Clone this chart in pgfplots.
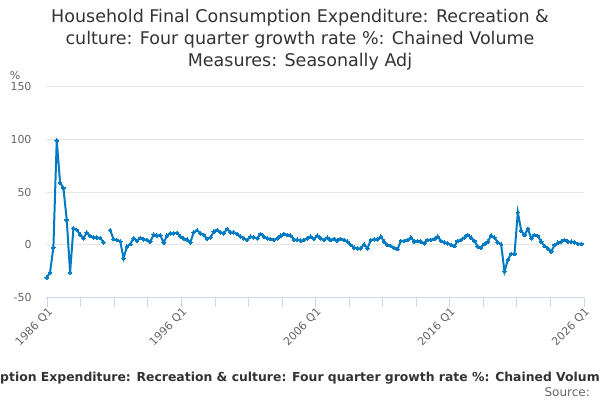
\documentclass[border=0pt]{standalone}
\usepackage{fontspec}
\setmainfont{DejaVu Sans}
\usepackage{pgfplots}
\pgfplotsset{compat=1.18}
\definecolor{ons}{RGB}{0,122,194}
\definecolor{gridc}{RGB}{230,230,230}
\definecolor{axisc}{RGB}{204,214,235}
\definecolor{lab}{RGB}{102,102,102}
\definecolor{ttl}{RGB}{51,51,51}
\pgfplotstableread{
q v
0 -31
1 -26
2 -2.5
3 99
4 59
5 54
6 23.7
7 -26
8 15.8
9 14.2
10 10
11 6.3
12 11.7
13 8.5
14 7.3
15 7
16 6.6
17 2.5
18 nan
19 14
20 5.5
21 4.7
22 3.4
23 -12.6
24 -1.6
25 0.8
26 6.3
27 3.9
28 6.6
29 5.4
30 4.8
31 3
32 9.8
33 9
34 9.3
35 2
36 9
37 11
38 11
39 11.5
40 8
41 6
42 5.4
43 2.5
44 12
45 14
46 11
47 9.5
48 5.7
49 7
50 12.6
51 14.2
52 12
53 11
54 15.2
55 12
56 12
57 10.4
58 7.9
59 6.3
60 4.7
61 7.9
62 7.3
63 6.3
64 10.4
65 7.9
66 6.3
67 5.7
68 4.7
69 6.3
70 8.8
71 10.4
72 9.5
73 8.8
74 5.2
75 5
76 4
77 4.7
78 6.3
79 7.9
80 5.7
81 8.8
82 6.3
83 4.7
84 7
85 4.7
86 5.7
87 4
88 5.7
89 4.7
90 3.2
91 0
92 -2.5
93 -3.2
94 -3.2
95 0.6
96 -3.2
97 4.7
98 5.4
99 5.4
100 7.9
101 3.2
102 0
103 -1
104 -2.7
105 -4
106 3.8
107 3.8
108 4.7
109 7
110 3.2
111 3.8
112 3.2
113 1.6
114 4.7
115 4.7
116 5.7
117 7.9
118 3.8
119 2.5
120 1.6
121 0
122 -1
123 3.8
124 4.7
125 7
126 9.5
127 7
128 3.8
129 -1.6
130 -2.5
131 1
132 3
133 9
134 7
135 2.5
136 0.6
137 -25.3
138 -14.2
139 -8.5
140 -8.5
141 31
142 13.6
143 9.5
144 15.2
145 6.3
146 9.5
147 8.5
148 3.2
149 -1
150 -3.2
151 -6.3
152 0
153 2.2
154 3.2
155 4.7
156 3.2
157 3.2
158 2.5
159 1
160 1
}\datatable
\begin{document}
\begin{tikzpicture}[x=1pt,y=1pt]
\begin{axis}[
  scale only axis, width=538.3pt, height=211pt,
  xmin=-0.3, xmax=160.8,
  ymin=-50, ymax=150,
  ytick={-50,0,50,100,150},
  xtick={0.2,40.35,80.5,120.65,160.8},
  xticklabels={1986 Q1,1996 Q1,2006 Q1,2016 Q1,2026 Q1},
  minor xtick={10.24,20.28,30.31,50.39,60.43,70.46,90.54,100.58,110.61,130.69,140.73,150.76},
  axis lines*=left,
  x axis line style={draw=axisc, line width=1pt},
  y axis line style={draw=none},
  ymajorgrids,
  major grid style={draw=gridc, line width=1pt},
  tick align=outside,
  major tick length=9pt, minor tick length=9pt,
  xtick style={draw=axisc, line width=1pt},
  minor tick style={draw=axisc, line width=1pt},
  ytick style={draw=none},
  /pgf/number format/assume math mode=true,
  yticklabel style={text=lab, font=\fontsize{11}{13}\selectfont, anchor=east, inner sep=0pt, xshift=-5pt},
  xticklabel style={text=lab, font=\fontsize{11}{13}\selectfont, rotate=45, anchor=east, inner sep=0pt, yshift=-5pt},
  unbounded coords=jump,
  clip=false,
]
\addplot[ons, line width=2pt, mark=*, mark size=1.8pt, mark options={fill=ons, draw=ons, line width=0pt}] table[x=q, y=v] {\datatable};
\end{axis}
\begin{scope}[shift={(-45.7,-102.3)}]
\path[use as bounding box] (0,0) rectangle (600,400);
\node[ttl, align=center, font=\fontsize{17.5}{22}\selectfont] at (300,360) {Household Final Consumption Expenditure: Recreation \&\\culture: Four quarter growth rate \%: Chained Volume\\Measures: Seasonally Adj};
\node[lab, font=\fontsize{11}{13}\selectfont, inner sep=0pt] at (15,325) {\%};
\node[ttl, anchor=base west, inner sep=0pt, font=\bfseries\fontsize{12.4}{14}\selectfont] at (0,19) {\llap{Household Final Consum}ption Expenditure: Recreation \& culture: Four quarter growth rate \%: Chained Volume Measures: Seasonally Adj};
\node[lab, anchor=base east, inner sep=0pt, font=\fontsize{12}{14}\selectfont] at (590,4) {Source:};
\end{scope}
\end{tikzpicture}
\end{document}
